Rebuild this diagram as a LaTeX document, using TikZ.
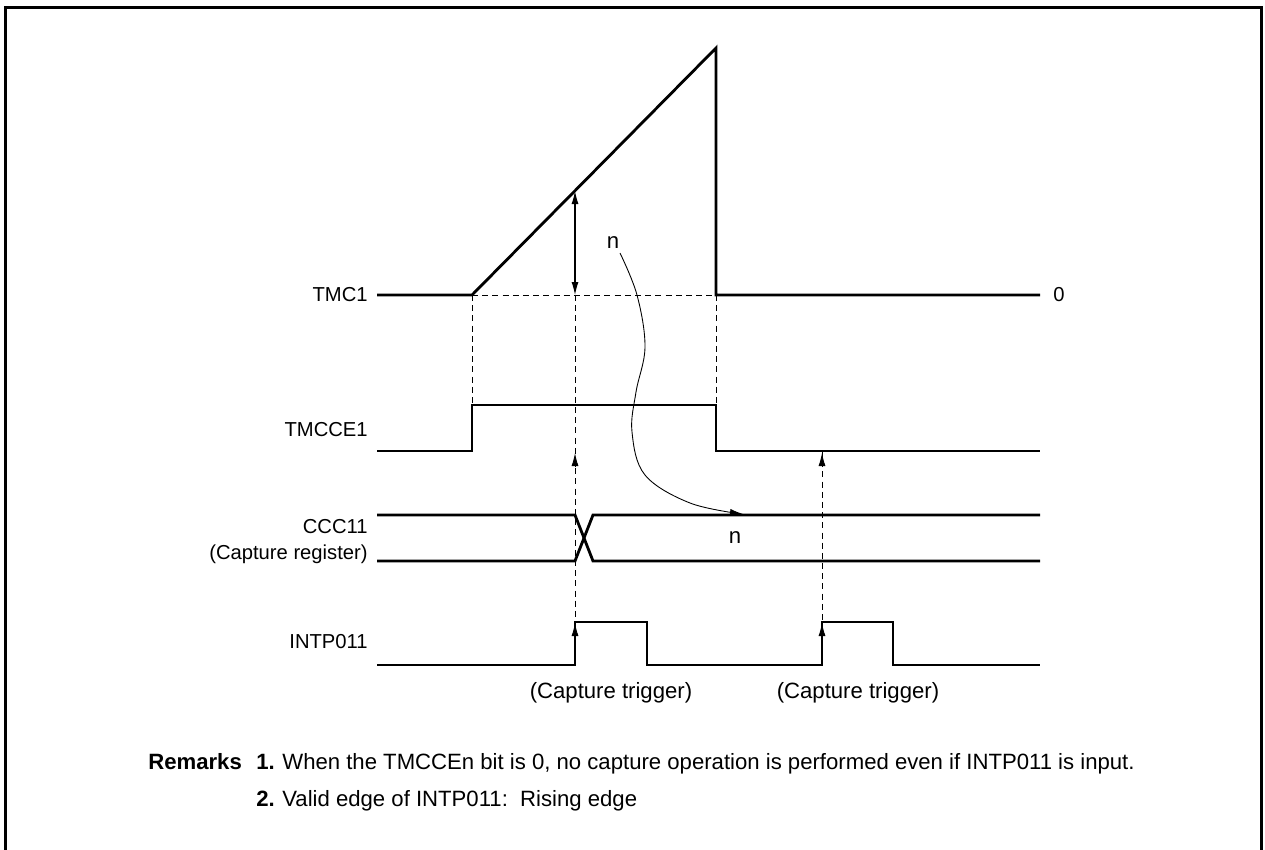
\documentclass[tikz,border=0pt]{standalone}
\usepackage{fontspec}
\setmainfont{Liberation Sans}
\usetikzlibrary{arrows.meta}

\begin{document}
\begin{tikzpicture}[x=0.02cm,y=-0.02cm,>={Latex[length=2.6mm,width=1.4mm]},
  sig/.style={line width=1.6pt},
  aux/.style={line width=0.5pt,dash pattern=on 3.4pt off 2.4pt},
  lbl/.style={font=\fontsize{11.5}{14}\selectfont,inner sep=0pt},
  txt/.style={font=\fontsize{12.6}{15}\selectfont,inner sep=0pt}]
\useasboundingbox (0,0) rectangle (1265,849);
\draw[line width=1.7pt] (5.5,900) -- (5.5,7.5) -- (1261,7.5) -- (1261,900);
% signal names
\node[lbl,anchor=east] (tmc) at (368,295) {TMC1};
\node[lbl,anchor=east] (tmcce) at (368,430) {TMCCE1};
\node[lbl,anchor=east] (ccc) at (368,527) {CCC11};
\node[lbl,anchor=east] (creg) at (368,554) {(Capture register)};
\node[lbl,anchor=east] (intp) at (368,642) {INTP011};
\node[lbl,anchor=west] (zero) at (1053,295) {0};
% key points
\coordinate (start) at (472,295);
\coordinate (peak) at (716,48);
\coordinate (clear) at (716,295);
\coordinate (cap) at (575,295);
\coordinate (ramp) at (575,191);
% dashed guides
\draw[aux] (start) -- (clear);
\draw[aux] (start) -- (472,405);
\draw[aux] (clear) -- (716,405);
\draw[aux] (cap) -- (575,622);
\draw[aux] (822,451) -- (822,622);
% waveforms
\draw[sig] (377,295) -- (start) -- (peak) -- (clear) -- (1040,295);
\draw[sig] (377,451) -| (472,405) -| (716,451) -- (1040,451);
\draw[sig] (377,515) -- (575,515) -- (593,561) -- (1040,561);
\draw[sig] (377,561) -- (575,561) -- (593,515) -- (1040,515);
\draw[sig] (377,665) -| (575,622) -| (647,665) -| (822,622) -| (893,665) -- (1040,665);
% capture arrows
\draw[<->,line width=0.6pt] (ramp) -- (cap);
\draw[->,line width=0.5pt] (575,467) -- (575,453);
\draw[->,line width=0.5pt] (822,467) -- (822,453);
\draw[->,line width=0.5pt] (575,640) -- (575,623);
\draw[->,line width=0.5pt] (822,640) -- (822,623);
\node[txt] (nval) at (613,243) {n};
\node[txt] (ncap) at (735,538) {n};
\draw[->,line width=0.5pt] plot[smooth,tension=0.6] coordinates
  {(620,253) (637,295) (645,347) (636,392) (632,432) (645,475) (690,503) (743,514)};
\node[txt] (trig1) at (611,693) {(Capture trigger)};
\node[txt] (trig2) at (858,693) {(Capture trigger)};
% remarks
\node[txt,anchor=base west] (rem) at (148,769) {\textbf{Remarks}};
\node[txt,anchor=base west] (r1) at (256,769) {\textbf{1.}};
\node[txt,anchor=base west] (t1) at (282,769) {When the TMCCEn bit is 0, no capture operation is performed even if INTP011 is input.};
\node[txt,anchor=base west] (r2) at (256,806) {\textbf{2.}};
\node[txt,anchor=base west] (t2) at (282,806) {Valid edge of INTP011:\ \ Rising edge};
\end{tikzpicture}
\end{document}
